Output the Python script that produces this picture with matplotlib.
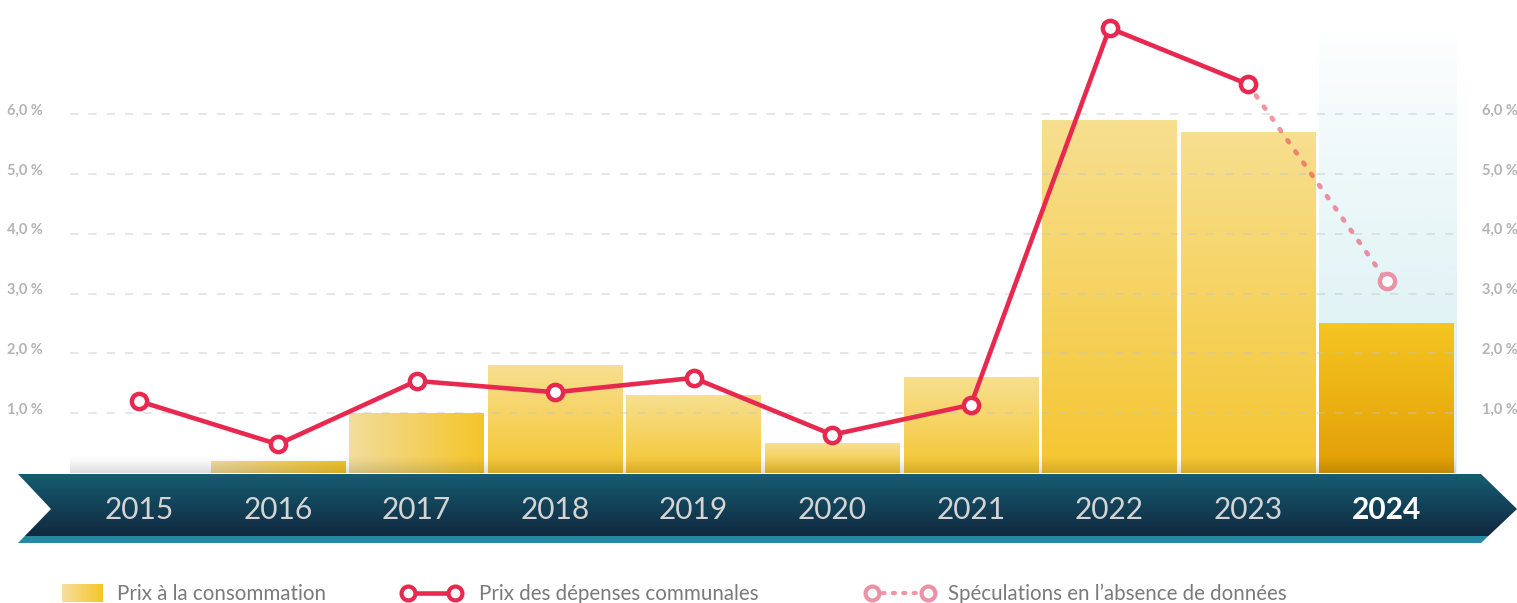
import numpy as np
import matplotlib.pyplot as plt
from matplotlib.colors import to_rgb
from matplotlib.patches import Polygon
import matplotlib.transforms as mtransforms

plt.rcParams["font.family"] = ["Lato", "DejaVu Sans"]

years = ['2015', '2016', '2017', '2018', '2019', '2020', '2021', '2022', '2023', '2024']
conso = [0.0, 0.2, 1.0, 1.8, 1.3, 0.5, 1.6, 5.9, 5.7, 2.5]
depenses = [1.2, 0.48, 1.54, 1.35, 1.59, 0.64, 1.14, 7.44, 6.5]
speculation = [6.5, 3.21]
ytick_vals = [1, 2, 3, 4, 5, 6]
ytick_labels = ['1,0 %', '2,0 %', '3,0 %', '4,0 %', '5,0 %', '6,0 %']

RED = '#e8294f'
W, H = 1517, 603


def grad(c1, c2, n=100):
    a, b = np.array(to_rgb(c1)), np.array(to_rgb(c2))
    t = np.linspace(0, 1, n)[:, None]
    return a + (b - a) * t


fig = plt.figure(figsize=(W / 100, H / 100), dpi=100)
fig.patch.set_facecolor('white')

# background overlay in pixel coordinates (band + legend)
bg = fig.add_axes([0, 0, 1, 1], zorder=0)
bg.axis('off')

# main chart
ax = fig.add_axes([70 / W, (H - 473) / H, 1386 / W, 454.5 / H], zorder=1)
ax.patch.set_visible(False)
x = np.arange(len(years))
ax.set_xlim(-0.5, len(years) - 0.5)
ax.set_ylim(0, 7.6)

# highlight column for the last year
col = np.ones((100, 1, 4))
col[:, 0, :3] = to_rgb('#e1f3f5')
col[:, 0, 3] = np.clip(np.linspace(1.5, 0, 100), 0, 1) ** 0.8
ax.imshow(col, extent=[x[-1] - 0.49, x[-1] + 0.5, 0, 7.45], aspect='auto',
          origin='lower', zorder=0.5, interpolation='bilinear')

# bars with gradients
bw = 0.97
for i, v in enumerate(conso):
    if v <= 0:
        continue
    if i in (1, 2):
        img = grad('#f2dd9c', '#f5c52a')[None, :, :]
    elif i == len(conso) - 1:
        img = grad('#e29e05', '#f5c522')[:, None, :]
    else:
        img = grad('#f5c630', '#f7df90')[:, None, :]
    ax.imshow(img, extent=[i - bw / 2, i + bw / 2, 0, v], aspect='auto',
              origin='lower', zorder=1, interpolation='bilinear')

# shadow at the base
sh = np.zeros((50, 1, 4))
sh[:, 0, 3] = np.linspace(0.14, 0, 50) ** 1.3 / 0.14 ** 0.3
ax.imshow(sh, extent=[-0.5, len(years) - 0.5, 0, 0.3], aspect='auto',
          origin='lower', zorder=1.5, interpolation='bilinear')

# grid
ax.set_yticks(ytick_vals)
ax.set_yticklabels(ytick_labels)
ax.set_axisbelow(False)
ax.grid(axis='y', color='#c4c4c4', alpha=0.5, lw=1.2, linestyle=(0, (5, 6)), zorder=2)
ax.tick_params(axis='y', left=False, right=False, labelleft=True, labelright=True,
               pad=16, labelsize=10.5, labelcolor='#b3b3b3')
ax.tick_params(axis='x', bottom=False, labelbottom=False)
off_l = mtransforms.ScaledTranslation(0, 5 / 100, fig.dpi_scale_trans)
off_r = mtransforms.ScaledTranslation(-1 / 100, 5 / 100, fig.dpi_scale_trans)
for t in ax.yaxis.get_major_ticks():
    t.label1.set_transform(t.label1.get_transform() + off_l)
    t.label2.set_transform(t.label2.get_transform() + off_r)
    t.label1.set_fontweight('bold')
    t.label2.set_fontweight('bold')
for s in ax.spines.values():
    s.set_visible(False)

# lines
ax.plot(x[-2:], speculation, color=RED, alpha=0.5, lw=3.4, linestyle=(0, (0.5, 2.4)),
        dash_capstyle='round', zorder=3, clip_on=False)
ax.plot(x[-1], speculation[-1], 'o', ms=11, mfc='white', mec='#eb93a6', mew=3.2,
        zorder=4, clip_on=False)
ax.plot(x[:len(depenses)], depenses, color=RED, lw=3.3, marker='o', ms=11, mfc='white',
        mec=RED, mew=3.2, zorder=5, clip_on=False)

# band
band = [(18, 474), (1481, 474), (1517, 509), (1481, 543), (18, 543), (51, 509)]
poly = Polygon(band, closed=True, facecolor='none', edgecolor='none')
bg.add_patch(poly)
rows = 69
bimg = np.zeros((rows, 1, 3))
for r in range(rows):
    if 474 + r >= 536:
        bimg[r, 0] = to_rgb('#2589a6')
    else:
        t = r / 62
        bimg[r, 0] = np.array(to_rgb('#165c72')) * (1 - t) + np.array(to_rgb('#10283e')) * t
im = bg.imshow(bimg, extent=[18, 1517, 543, 474], aspect='auto', interpolation='bilinear',
               zorder=1)
im.set_clip_path(poly)

xt = ax.get_xaxis_transform()
for i, yr in enumerate(years):
    last = i == len(years) - 1
    ax.text(i, -0.082, yr, transform=xt, ha='center', va='center', fontsize=21.5,
            color='white' if last else '#d4d4d4', fontweight='bold' if last else 'normal',
            clip_on=False, zorder=6)

# legend
lg = grad('#f7dfa0', '#f5c528')[None, :, :]
bg.imshow(lg, extent=[62, 103, 602, 584], aspect='auto', interpolation='bilinear', zorder=2)
bg.text(117, 594, 'Prix à la consommation', fontsize=14.8, color='#7a7a7a', va='center')
bg.plot([408, 455], [593, 593], color=RED, lw=3.3, marker='o', ms=10, mfc='white',
        mec=RED, mew=3, zorder=3)
bg.text(479, 594, 'Prix des dépenses communales', fontsize=14.8, color='#7a7a7a', va='center')
bg.plot([872, 928], [593, 593], color=RED, alpha=0.5, lw=3, linestyle=(0, (0.5, 2)),
        dash_capstyle='round', zorder=3)
bg.plot([872, 928], [593, 593], 'o', ms=10, mfc='white', mec='#eb93a6', mew=3, zorder=4)
bg.text(948, 594, 'Spéculations en l\u2019absence de données', fontsize=14.8, color='#7a7a7a',
        va='center')

bg.set_xlim(0, W)
bg.set_ylim(H, 0)

fig.savefig('out.png', dpi=100, facecolor='white')
